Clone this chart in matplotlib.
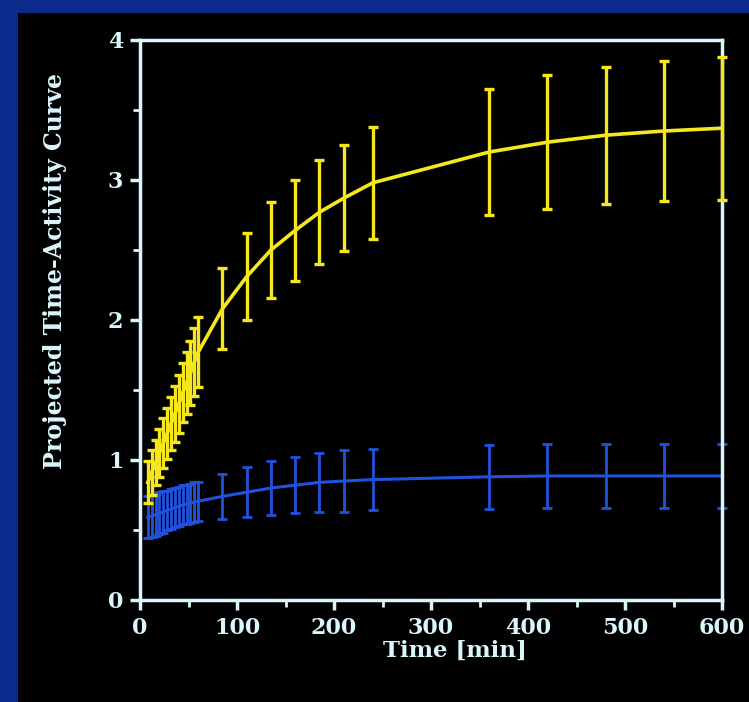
import matplotlib
matplotlib.use("Agg")
import matplotlib.pyplot as plt
from matplotlib.patches import Rectangle
from matplotlib.ticker import MultipleLocator

# ---- data ----
time_min = [8, 12, 16, 20, 24, 28, 32, 36, 40, 44, 48, 52, 56, 60,
            85, 110, 135, 160, 185, 210, 240, 360, 420, 480, 540, 600]

yellow_mean = [0.84, 0.91, 0.98, 1.05, 1.12, 1.19, 1.26, 1.33, 1.40, 1.48, 1.55,
               1.62, 1.70, 1.77,
               2.08, 2.31, 2.50, 2.64, 2.77, 2.87, 2.98, 3.20, 3.27, 3.32, 3.35, 3.37]
yellow_err = [0.15, 0.16, 0.16, 0.17, 0.18, 0.18, 0.19, 0.20, 0.21, 0.21, 0.22,
              0.23, 0.24, 0.25,
              0.29, 0.31, 0.34, 0.36, 0.37, 0.38, 0.40, 0.45, 0.48, 0.49, 0.50, 0.51]

blue_mean = [0.59, 0.60, 0.61, 0.62, 0.63, 0.64, 0.65, 0.66, 0.67, 0.68, 0.685,
             0.69, 0.70, 0.705,
             0.74, 0.77, 0.80, 0.82, 0.84, 0.85, 0.86, 0.88, 0.886, 0.886, 0.886, 0.886]
blue_err = [0.15, 0.15, 0.15, 0.15, 0.15, 0.14, 0.14, 0.14, 0.14, 0.14, 0.14,
            0.14, 0.14, 0.14,
            0.16, 0.18, 0.19, 0.20, 0.21, 0.22, 0.22, 0.23, 0.23, 0.23, 0.23, 0.23]

x_ticks = [0, 100, 200, 300, 400, 500, 600]
y_ticks = [0, 1, 2, 3, 4]
x_label = "Time [min]"
y_label = "Projected Time-Activity Curve"

# ---- styling ----
TXT = "#d8f6fb"
YEL = "#f6e61c"
BLU = "#2152dc"
FONT = ["DejaVu Serif", "DejaVu Sans"]

fig = plt.figure(figsize=(7.49, 7.02), dpi=100)
fig.patch.set_facecolor("#0b2a8c")
fig.patches.append(Rectangle((18 / 749, 0), 1 - 18 / 749, 1 - 13 / 702,
                             transform=fig.transFigure, facecolor="black",
                             edgecolor="none", zorder=-5))

ax = fig.add_axes([140 / 749, 1 - 600 / 702, (722 - 140) / 749, (600 - 40) / 702])
ax.set_zorder(5)
ax.set_facecolor("black")

ax.errorbar(time_min, yellow_mean, yerr=yellow_err, color=YEL, lw=2.6,
            elinewidth=2.4, capsize=3.5, capthick=2.4, clip_on=False, zorder=3)
ax.errorbar(time_min, blue_mean, yerr=blue_err, color=BLU, lw=2.2,
            elinewidth=2.0, capsize=3.5, capthick=2.0, clip_on=False, zorder=2)

ax.set_xlim(0, 600)
ax.set_ylim(0, 4)
ax.set_xticks(x_ticks)
ax.set_yticks(y_ticks)
ax.xaxis.set_minor_locator(MultipleLocator(50))
ax.yaxis.set_minor_locator(MultipleLocator(0.5))

for s in ax.spines.values():
    s.set_color(TXT)
    s.set_linewidth(2.5)

ax.tick_params(axis="both", which="major", direction="out", length=7, width=2.5,
               colors=TXT, labelsize=16, pad=5)
ax.tick_params(axis="both", which="minor", direction="out", length=5, width=2.0,
               colors=TXT)
for lab in ax.get_xticklabels() + ax.get_yticklabels():
    lab.set_family(FONT)
    lab.set_fontweight("heavy")
    lab.set_color(TXT)

fig.text(455 / 749, 1 - 651 / 702, x_label, color=TXT, fontsize=16.5,
         fontweight="heavy", family=FONT, ha="center", va="center")
fig.text(55 / 749, 1 - 271 / 702, y_label, color=TXT, fontsize=17,
         fontweight="heavy", family=FONT, ha="center", va="center", rotation=90)

fig.savefig("out.png", dpi=100, facecolor=fig.get_facecolor())
